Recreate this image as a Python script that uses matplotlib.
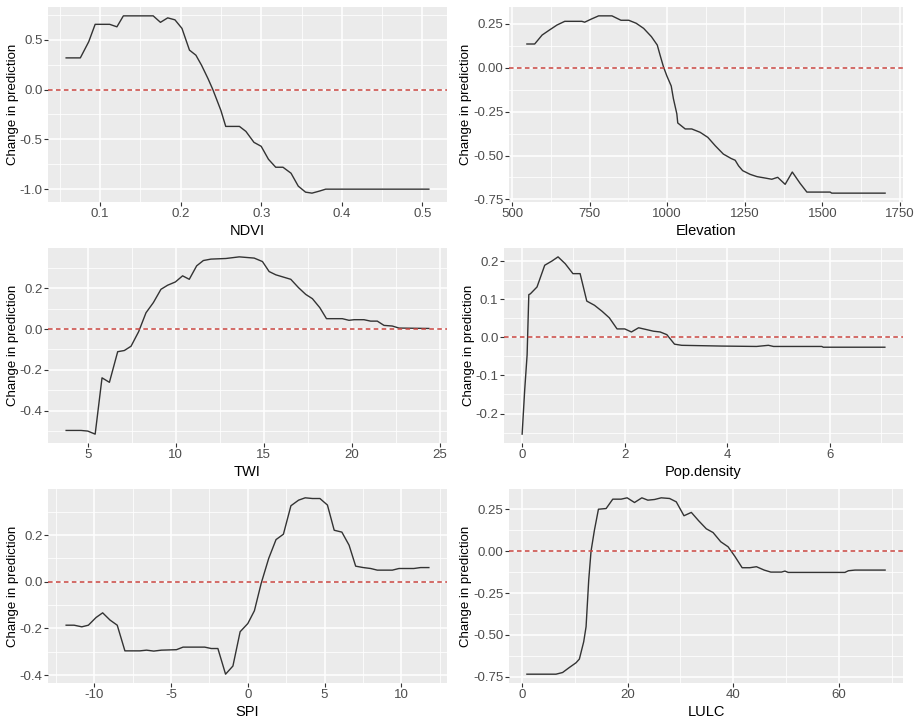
import numpy as np
import matplotlib
matplotlib.use("Agg")
import matplotlib.pyplot as plt
from matplotlib.ticker import MultipleLocator, FormatStrFormatter

plt.rcParams['font.family'] = ['Liberation Sans', 'DejaVu Sans']
plt.rcParams['axes.unicode_minus'] = False

# partial dependence curves
ndvi_x = [0.058, 0.0756, 0.086, 0.094, 0.112, 0.121, 0.129, 0.166, 0.175, 0.184, 0.193, 0.2017,
          0.211, 0.219, 0.226, 0.234, 0.24, 0.246, 0.25, 0.256, 0.273, 0.281, 0.291, 0.30, 0.309,
          0.318, 0.327, 0.337, 0.346, 0.355, 0.363, 0.372, 0.38, 0.508]
ndvi_y = [0.318, 0.318, 0.48, 0.655, 0.655, 0.63, 0.74, 0.74, 0.675, 0.72, 0.70, 0.614,
          0.396, 0.345, 0.244, 0.11, 0.0, -0.126, -0.21, -0.37, -0.37, -0.42, -0.53, -0.57, -0.70,
          -0.78, -0.78, -0.84, -0.97, -1.03, -1.04, -1.02, -1.0, -1.0]

elev_x = [548, 573, 597, 621, 645, 670, 725, 734, 757, 779, 822, 851, 876, 900, 924, 949, 968,
          977, 988, 999, 1013, 1020, 1031, 1034, 1058, 1079, 1106, 1131, 1155, 1181, 1206, 1219,
          1230, 1243, 1267, 1289, 1315, 1337, 1356, 1380, 1403, 1428, 1450, 1525, 1530, 1702]
elev_y = [0.134, 0.134, 0.185, 0.214, 0.242, 0.263, 0.263, 0.258, 0.277, 0.294, 0.294, 0.269,
          0.269, 0.252, 0.223, 0.176, 0.128, 0.071, 0.004, -0.048, -0.105, -0.177, -0.263, -0.315,
          -0.349, -0.349, -0.368, -0.397, -0.445, -0.492, -0.517, -0.527, -0.559, -0.586, -0.607,
          -0.62, -0.628, -0.635, -0.624, -0.664, -0.594, -0.658, -0.708, -0.708, -0.714, -0.714]

twi_x = [3.77, 4.62, 5.0, 5.42, 5.81, 6.23, 6.70, 7.08, 7.46, 7.89, 8.31, 8.73, 9.16, 9.54, 9.98,
         10.39, 10.77, 11.19, 11.57, 12.0, 12.85, 13.61, 14.46, 14.93, 15.31, 15.69, 16.54, 16.98,
         17.39, 17.77, 18.19, 18.57, 19.47, 19.85, 20.14, 20.7, 21.08, 21.46, 21.84, 22.31, 22.69,
         24.39]
twi_y = [-0.497, -0.497, -0.50, -0.515, -0.239, -0.261, -0.111, -0.105, -0.084, -0.013, 0.080,
         0.13, 0.195, 0.215, 0.231, 0.261, 0.244, 0.31, 0.336, 0.343, 0.346, 0.354, 0.348, 0.331,
         0.282, 0.266, 0.244, 0.203, 0.17, 0.149, 0.105, 0.051, 0.051, 0.043, 0.046, 0.046, 0.039,
         0.039, 0.018, 0.015, 0.005, 0.003]

pop_x = [0.0, 0.05, 0.097, 0.13, 0.16, 0.29, 0.44, 0.58, 0.70, 0.84, 0.99, 1.13, 1.26, 1.41, 1.56,
         1.70, 1.85, 2.0, 2.13, 2.27, 2.40, 2.56, 2.69, 2.82, 2.97, 3.11, 3.89, 4.57, 4.80, 4.90,
         5.84, 5.87, 7.07]
pop_y = [-0.254, -0.138, -0.046, 0.112, 0.114, 0.132, 0.189, 0.2, 0.211, 0.193, 0.167, 0.167,
         0.095, 0.084, 0.068, 0.051, 0.022, 0.022, 0.014, 0.025, 0.021, 0.016, 0.014, 0.007,
         -0.018, -0.021, -0.023, -0.024, -0.021, -0.024, -0.024, -0.026, -0.026]

spi_x = [-11.84, -11.32, -10.82, -10.39, -9.89, -9.46, -8.98, -8.51, -8.01, -7.03, -6.6, -6.13,
         -5.63, -4.65, -4.22, -2.81, -2.38, -1.95, -1.45, -0.97, -0.50, 0.0, 0.43, 0.87, 1.36,
         1.84, 2.32, 2.81, 3.31, 3.74, 4.22, 4.70, 5.19, 5.63, 6.13, 6.6, 7.03, 7.53, 8.01, 8.44,
         9.42, 9.85, 10.82, 11.26, 11.80]
spi_y = [-0.186, -0.186, -0.193, -0.186, -0.153, -0.133, -0.164, -0.186, -0.296, -0.296, -0.293,
         -0.297, -0.293, -0.291, -0.28, -0.28, -0.286, -0.286, -0.396, -0.361, -0.214, -0.179,
         -0.124, -0.007, 0.10, 0.181, 0.204, 0.326, 0.35, 0.36, 0.357, 0.357, 0.329, 0.221, 0.213,
         0.157, 0.067, 0.061, 0.057, 0.05, 0.05, 0.057, 0.057, 0.061, 0.061]

lulc_x = [0.95, 6.45, 7.7, 8.98, 10.24, 10.87, 11.69, 12.14, 12.64, 13.08, 13.72, 14.48, 15.93,
          17.19, 18.77, 19.91, 21.3, 22.69, 23.83, 25.09, 26.36, 27.94, 29.2, 30.66, 32.05, 33.44,
          34.89, 36.16, 37.61, 39.0, 40.26, 41.66, 43.1, 44.37, 45.83, 47.09, 49.1, 49.75, 50.38,
          61.1, 61.76, 63.0, 68.7]
lulc_y = [-0.734, -0.734, -0.724, -0.694, -0.666, -0.644, -0.541, -0.451, -0.173, 0.0, 0.125,
          0.25, 0.254, 0.31, 0.31, 0.318, 0.29, 0.318, 0.304, 0.308, 0.318, 0.314, 0.294, 0.211,
          0.231, 0.181, 0.133, 0.111, 0.056, 0.026, -0.03, -0.099, -0.099, -0.093, -0.113, -0.125,
          -0.125, -0.119, -0.127, -0.127, -0.117, -0.113, -0.113]

W, H = 917, 721
fig = plt.figure(figsize=(W / 100, H / 100), dpi=100)

# (x, y, label, x step, x fmt, y step, y fmt, left px, right px, top px, bottom px)
panels = [
    (ndvi_x, ndvi_y, "NDVI", 0.1, "%.1f", 0.5, "%.1f", 48, 447, 7, 202),
    (elev_x, elev_y, "Elevation", 250, "%d", 0.25, "%.2f", 509, 903, 7, 202),
    (twi_x, twi_y, "TWI", 5, "%d", 0.2, "%.1f", 48, 447, 248, 443),
    (pop_x, pop_y, "Pop.density", 2, "%d", 0.1, "%.1f", 504, 903, 248, 443),
    (spi_x, spi_y, "SPI", 5, "%d", 0.2, "%.1f", 48, 447, 489, 683),
    (lulc_x, lulc_y, "LULC", 20, "%d", 0.25, "%.2f", 509, 903, 489, 683),
]

for xs, ys, name, xstep, xfmt, ystep, yfmt, l, r, t, b in panels:
    ax = fig.add_axes([l / W, (H - b) / H, (r - l) / W, (b - t) / H])
    ax.set_facecolor("#EBEBEB")
    ax.plot(xs, ys, color="#333333", lw=1.0, zorder=3)
    ax.axhline(0, color="#C8443F", lw=1.1, ls=(0, (3, 2.2)), zorder=4)
    ax.margins(0.05)

    ax.xaxis.set_major_locator(MultipleLocator(xstep))
    ax.xaxis.set_minor_locator(MultipleLocator(xstep / 2))
    ax.yaxis.set_major_locator(MultipleLocator(ystep))
    ax.yaxis.set_minor_locator(MultipleLocator(ystep / 2))
    ax.xaxis.set_major_formatter(FormatStrFormatter(xfmt))
    ax.yaxis.set_major_formatter(FormatStrFormatter(yfmt))

    ax.grid(which="major", color="white", lw=1.1)
    ax.grid(which="minor", color="white", lw=0.55)
    ax.set_axisbelow(True)
    for s in ax.spines.values():
        s.set_visible(False)
    ax.tick_params(which="major", length=3, width=0.8, color="#333333",
                   labelsize=9.5, labelcolor="#4D4D4D", pad=1)
    ax.tick_params(which="minor", length=0)

    ax.set_xlabel(name, fontsize=10.5, labelpad=3)
    ax.set_ylabel("Change in prediction", fontsize=9.5, labelpad=0.5)

fig.savefig("out.png", dpi=100)
